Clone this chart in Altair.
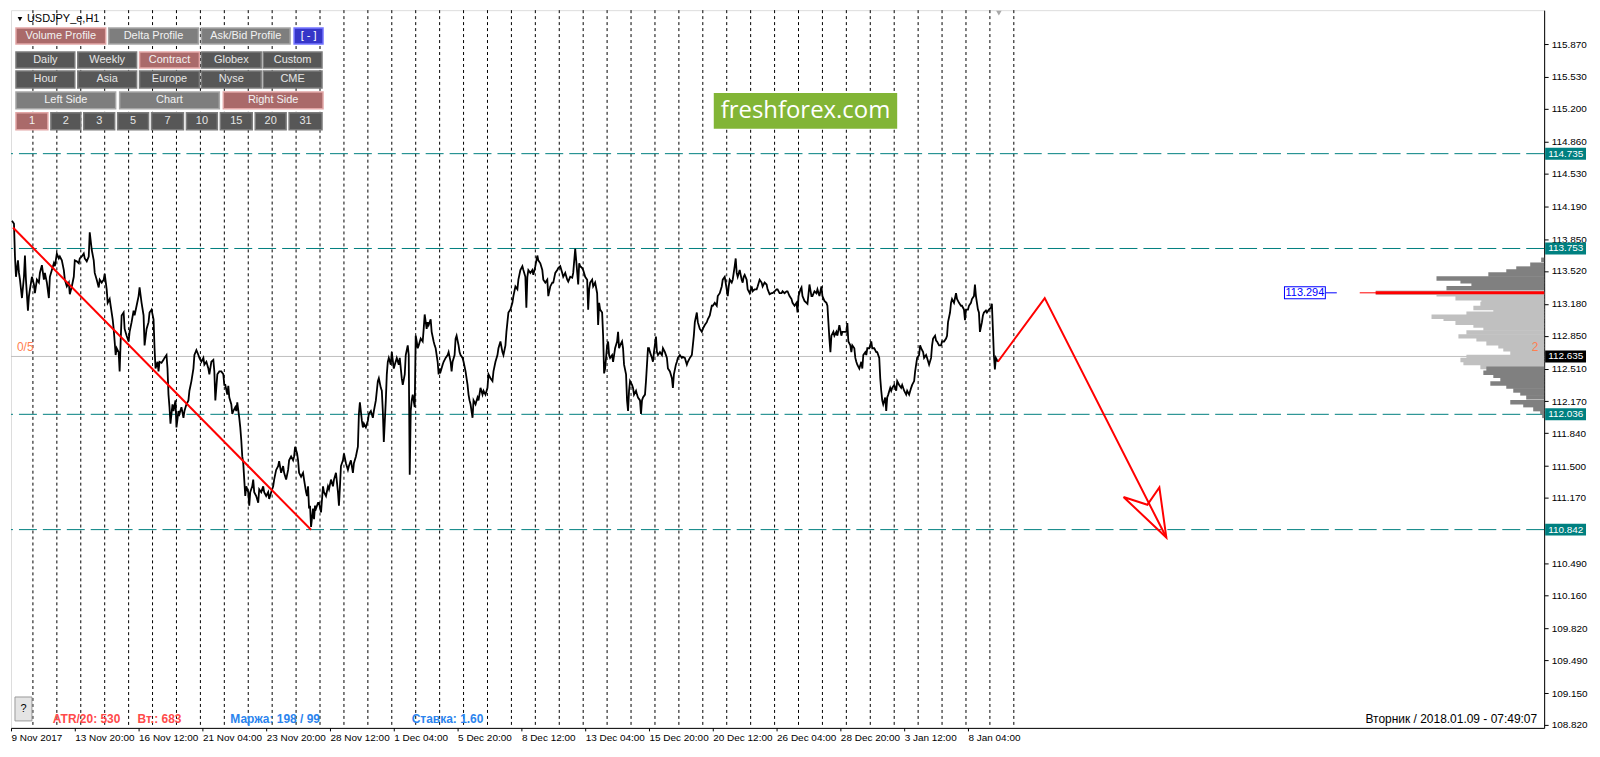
import json
import altair as alt
import pandas as pd

W, H = 1538, 720
Y_MIN, Y_MAX = 108.789, 116.221

# ---------------- data ----------------
# H1 close line, (bar index, price)
SEG_1 = [(1,114.04),(3,114.01),(4,113.67),(5,113.46),(7,113.63),(8,113.50),(9,113.43),(11,113.24),(13,113.46),(14,113.68),(15,113.43),(17,113.11),(18,113.26),(19,113.33),(21,113.46),(23,113.38),(24,113.29),(26,113.43),(28,113.40),(29,113.50),(31,113.58),(33,113.43),(34,113.50),(36,113.40),(38,113.24),(39,113.46),(41,113.53),(43,113.60),(44,113.57),(46,113.70),(48,113.65),(49,113.67),(51,113.63),(53,113.53),(54,113.43),(56,113.36),(58,113.40),(59,113.28),(61,113.36),(63,113.46),(64,113.63),(66,113.62),(68,113.60),(69,113.65),(71,113.67),(73,113.70),(74,113.65),(76,113.62),(78,113.67),(79,113.92),(81,113.74),(83,113.63),(84,113.50),(86,113.43),(88,113.35),(89,113.43),(91,113.40),(93,113.43),(94,113.49),(96,113.33),(97,113.19),(99,113.23),(100,113.16),(102,113.02),(103,112.92),(104,112.79),(105,112.65),(106,112.72),(108,112.68),(109,112.48),(110,112.79),(111,113.06),(113,113.09),(114,112.92),(116,112.85),(118,112.79),(119,112.89),(121,112.99),(123,113.11),(124,113.06),(126,113.16),(128,113.26),(129,113.35),(131,113.19),(133,113.06),(134,112.75),(136,112.92),(138,112.99),(139,113.09),(141,113.12),(143,113.02),(144,112.72),(145,112.51),(147,112.58),(148,112.48),(149,112.58),(151,112.57),(153,112.60),(154,112.62),(156,112.65),(157,112.51),(158,112.24),(159,112.11),(160,111.94),(162,112.14),(163,112.07),(165,112.18),(166,111.90),(168,112.07),(169,112.04),(171,112.11),(173,112.00),(174,112.07),(176,112.14),(178,112.18),(179,112.28),(181,112.38),(183,112.51),(184,112.65),(186,112.70),(188,112.65),(189,112.62),(191,112.58),(193,112.62),(194,112.55)]
SEG_2 = [(196,112.58),(198,112.51),(199,112.45),(201,112.58),(203,112.60),(204,112.48),(205,112.18),(207,112.45),(209,112.48),(211,112.48),(213,112.45),(214,112.34),(215,112.34),(217,112.24),(218,112.33),(219,112.21),(221,112.14),(222,112.04),(223,112.07),(225,112.11),(226,112.07),(227,112.16),(229,112.00),(230,111.90),(231,111.77),(232,111.60),(233,111.53),(234,111.36),(235,111.19),(236,111.29),(238,111.23),(239,111.09),(240,111.23),(242,111.29),(243,111.36),(244,111.23),(246,111.19),(248,111.12),(249,111.26),(251,111.23),(253,111.29),(254,111.23),(256,111.19),(258,111.23),(259,111.16),(261,111.23),(263,111.29),(264,111.36),(266,111.46),(268,111.50),(269,111.55),(271,111.43),(273,111.50),(274,111.43),(276,111.36),(278,111.46),(279,111.56),(281,111.60),(283,111.56),(284,111.60),(285,111.70),(287,111.63),(288,111.56),(289,111.43),(291,111.39),(293,111.43),(294,111.36),(296,111.23),(297,111.19),(298,111.29),(299,111.06),(300,111.09),(301,110.87),(303,111.06),(304,110.95),(305,111.09),(306,111.06),(308,111.12),(309,111.12),(311,111.02),(313,111.29),(314,111.23),(316,111.19),(318,111.29),(319,111.26),(321,111.36),(323,111.29),(324,111.36),(326,111.43),(328,111.23),(329,111.09),(330,111.29),(331,111.50),(333,111.56),(334,111.63),(336,111.53),(338,111.46),(339,111.50),(341,111.56),(343,111.43),(344,111.53),(346,111.60),(348,111.70),(349,112.04),(350,112.16),(352,111.97),(353,111.90),(354,111.94),(356,111.90),(358,111.97),(359,112.04),(361,112.07),(363,112.00),(364,112.07),(366,112.18),(368,112.38),(369,112.41),(371,112.31),(372,112.28),(373,112.07),(374,111.75),(376,112.18),(377,112.45),(378,112.58),(379,112.62),(381,112.55),(382,112.68),(384,112.51),(385,112.55),(387,112.62),(389,112.55),(390,112.62),(392,112.41),(393,112.34),(395,112.45)]
SEG_3 = [(396,112.65),(398,112.75),(399,112.65),(400,111.41),(401,112.07),(402,112.18),(403,112.24),(405,112.11),(406,112.85),(407,112.79),(408,112.72),(409,112.75),(411,112.82),(413,112.79),(414,112.92),(415,113.07),(417,112.92),(418,112.99),(419,112.96),(421,113.02),(422,112.89),(424,112.79),(425,112.75),(426,112.72),(428,112.58),(429,112.45),(430,112.51),(431,112.48),(433,112.55),(434,112.58),(436,112.62),(438,112.65),(439,112.68),(441,112.58),(442,112.48),(443,112.58),(445,112.65),(446,112.82),(447,112.85),(449,112.75),(450,112.68),(451,112.65),(453,112.62),(454,112.58),(456,112.48),(458,112.34),(459,112.24),(460,112.18),(461,112.14),(463,112.00),(464,112.18),(466,112.14),(468,112.21),(469,112.18),(471,112.31),(473,112.24),(474,112.28),(476,112.24),(478,112.31),(479,112.45),(481,112.41),(483,112.38),(484,112.48),(486,112.58),(488,112.65),(489,112.72),(491,112.79),(493,112.68),(494,112.65),(496,112.75),(497,112.89),(498,112.99),(499,113.09),(501,113.12),(503,113.19),(504,113.26),(506,113.36),(508,113.33),(509,113.43),(511,113.53),(513,113.57),(514,113.53),(516,113.46),(517,113.14),(518,113.46),(519,113.53),(521,113.50),(523,113.53),(524,113.48),(526,113.57),(528,113.68),(529,113.63),(531,113.60),(533,113.53),(534,113.43),(536,113.40),(538,113.43),(539,113.26),(541,113.36),(543,113.40),(544,113.40),(546,113.50),(548,113.53),(549,113.55),(551,113.57),(553,113.50),(554,113.46),(556,113.50),(558,113.43),(559,113.41),(561,113.46),(563,113.45),(564,113.50),(566,113.75),(567,113.63),(569,113.38),(570,113.60),(571,113.57),(573,113.55),(574,113.53),(576,113.46),(578,113.43),(579,113.12),(580,113.33),(581,113.40),(583,113.43),(584,113.36),(586,113.40),(588,113.29),(589,112.96),(590,113.19),(591,113.12),(593,113.09),(594,112.85),(595,112.46)]
SEG_4 = [(596,112.51),(598,112.75),(599,112.79),(600,112.65),(601,112.62),(603,112.65),(604,112.58),(606,112.72),(608,112.79),(609,112.89),(610,112.72),(611,112.75),(613,112.79),(614,112.72),(615,112.55),(617,112.45),(618,112.18),(619,112.07),(620,112.28),(621,112.38),(623,112.34),(624,112.31),(625,112.24),(627,112.28),(628,112.24),(629,112.21),(631,112.18),(632,112.04),(633,112.18),(634,112.21),(636,112.24),(637,112.38),(639,112.72),(640,112.72),(641,112.68),(643,112.62),(644,112.58),(645,112.68),(647,112.84),(648,112.68),(649,112.65),(651,112.68),(653,112.65),(654,112.72),(656,112.68),(658,112.62),(659,112.51),(661,112.48),(663,112.41),(664,112.31),(665,112.45),(667,112.55),(668,112.58),(669,112.62),(671,112.65),(673,112.62),(674,112.63),(676,112.62),(678,112.55),(679,112.58),(681,112.62),(683,112.65),(684,112.75),(685,112.85),(686,112.99),(688,113.09),(689,112.99),(691,112.92),(693,112.89),(694,112.92),(696,112.96),(698,112.99),(699,113.02),(701,113.06),(703,113.16),(704,113.16),(706,113.19),(708,113.16),(709,113.26),(711,113.29),(713,113.36),(714,113.43),(716,113.46),(718,113.33),(719,113.26),(720,113.36),(721,113.43),(723,113.40),(724,113.43),(726,113.57),(727,113.65),(728,113.50),(729,113.46),(731,113.53),(733,113.43),(734,113.40),(735,113.46),(736,113.48),(738,113.43),(739,113.33),(741,113.29),(743,113.36),(744,113.31),(746,113.33),(748,113.33),(749,113.36),(751,113.43),(753,113.40),(754,113.36),(756,113.40),(758,113.38),(759,113.33),(761,113.28),(763,113.29),(764,113.29),(766,113.31),(768,113.33),(769,113.33),(771,113.29),(773,113.29),(774,113.31),(776,113.29),(778,113.31),(779,113.31),(781,113.26),(783,113.23),(784,113.19),(786,113.16),(788,113.19),(789,113.09),(790,113.26),(792,113.33),(793,113.35),(794,113.26)]
SEG_5 = [(796,113.21),(798,113.19),(799,113.18),(801,113.38),(803,113.26),(804,113.26),(806,113.31),(808,113.29),(809,113.33),(811,113.26),(813,113.36),(814,113.26),(816,113.21),(818,113.19),(819,113.16),(820,112.99),(821,112.82),(822,112.68),(823,112.85),(825,112.89),(826,112.85),(828,112.89),(829,112.85),(831,112.96),(833,112.85),(834,112.89),(836,112.89),(838,112.89),(839,112.98),(840,112.79),(842,112.75),(843,112.68),(844,112.75),(846,112.72),(847,112.62),(848,112.58),(849,112.55),(851,112.51),(853,112.58),(854,112.51),(855,112.65),(857,112.68),(858,112.65),(859,112.72),(861,112.72),(863,112.79),(864,112.72),(866,112.72),(868,112.68),(869,112.68),(871,112.62),(872,112.41),(873,112.28),(874,112.18),(875,112.14),(877,112.21),(878,112.07),(879,112.21),(880,112.24),(882,112.31),(883,112.28),(884,112.31),(886,112.34),(888,112.28),(889,112.38),(891,112.34),(893,112.31),(894,112.34),(896,112.28),(898,112.24),(899,112.28),(901,112.24),(903,112.31),(904,112.34),(906,112.38),(907,112.48),(908,112.55),(909,112.62),(911,112.65),(912,112.75),(913,112.72),(915,112.68),(916,112.62),(918,112.65),(919,112.62),(921,112.55),(923,112.62),(924,112.75),(925,112.82),(927,112.85),(928,112.80),(929,112.79),(931,112.75),(933,112.75),(934,112.79),(936,112.79),(938,112.82),(939,112.85),(940,112.99),(942,113.09),(943,113.19),(944,113.23),(946,113.19),(948,113.29),(949,113.23),(951,113.19),(953,113.16),(954,113.16),(956,113.12),(957,113.01),(958,113.12),(960,113.12),(961,113.16),(963,113.19),(964,113.23),(966,113.26),(967,113.38),(968,113.26),(970,113.12),(971,113.09),(972,112.89),(974,112.99),(975,113.06),(976,113.09),(978,113.11),(979,113.09),(981,113.12),(983,113.14),(984,113.18),(985,112.92),(986,112.65),(987,112.50),(988,112.62),(989,112.60),(990,112.58)]

# drawn objects (bar, price)
TREND = [(2, 113.97), (301, 110.84)]
FORECAST = [(990, 112.58), (1037, 113.24), (1159, 110.76)]
ARROW_HEAD = [(1116, 111.18), (1159, 110.76), (1152, 111.28), (1140, 111.10), (1116, 111.18)]

LEVELS = [114.735, 113.753, 112.036, 110.842]
BID = 112.635
POC = 113.294
POC_LABEL_BARS = (1277, 1319)

# 110.830 lies under the 110.842 tag in the reference, so it is not drawn
AXIS_TICKS = [115.87, 115.53, 115.20, 114.86, 114.53, 114.19, 113.85, 113.52, 113.18, 112.85,
              112.51, 112.17, 111.84, 111.50, 111.17, 110.49, 110.16, 109.82, 109.49,
              109.15, 108.82]
XLABEL_BARS = [0, 64, 128, 192, 256, 320, 384, 448, 512, 576, 640, 704, 768, 832, 896, 960]
XLABEL_TEXT = ["9 Nov 2017", "13 Nov 20:00", "16 Nov 12:00", "21 Nov 04:00", "23 Nov 20:00",
               "28 Nov 12:00", "1 Dec 04:00", "5 Dec 20:00", "8 Dec 12:00", "13 Dec 04:00",
               "15 Dec 20:00", "20 Dec 12:00", "26 Dec 04:00", "28 Dec 20:00", "3 Jan 12:00",
               "8 Jan 04:00"]
SEP_BARS = [22, 46, 70, 94, 118, 142, 166, 190, 214, 238, 262, 286, 310, 334, 358, 382, 406, 430,
            454, 478, 502, 526, 550, 574, 598, 622, 646, 670, 694, 718, 742, 766, 790, 814, 838,
            862, 886, 910, 934, 958, 982, 1006]

# volume profile (price level, volume)
PROFILE_PRICE = [113.636, 113.585, 113.545, 113.514, 113.484, 113.443, 113.413, 113.382, 113.341,
                 113.294, 113.280, 113.239, 113.209, 113.178, 113.138, 113.107, 113.077, 113.046,
                 113.026, 112.985, 112.955, 112.924, 112.883, 112.843, 112.812, 112.771, 112.741,
                 112.710, 112.670, 112.629, 112.598, 112.568, 112.527, 112.507, 112.466, 112.436,
                 112.395, 112.354, 112.324, 112.283, 112.253, 112.212, 112.161, 112.131, 112.090,
                 112.059, 112.020]
PROFILE_VOL = [3, 14, 28, 38, 56, 108, 84, 73, 98, 169, 108, 89, 63, 64, 71, 51, 78, 113, 101, 89,
               71, 61, 78, 86, 68, 58, 46, 41, 34, 78, 84, 81, 64, 58, 61, 51, 44, 54, 38, 31, 24,
               18, 34, 21, 11, 4, 2]
VA_LOW, VA_HIGH = 112.51, 113.33
POC_VOL_THICK, POC_VOL_THIN = 169, 185

# ---------------- scales / axes ----------------
FONT = "Liberation Sans"
xs = alt.Scale(domain=[0, W], nice=False, zero=False)
ys = alt.Scale(domain=[Y_MIN, Y_MAX], nice=False, zero=False)
label_expr = "%s[indexof(%s, datum.value)]" % (json.dumps(XLABEL_TEXT), json.dumps(XLABEL_BARS))
AX_X = alt.Axis(title=None, values=XLABEL_BARS, labelExpr=label_expr, labelAlign="left",
                labelFontSize=10, labelFont=FONT, tickSize=3, labelPadding=2, grid=False,
                labelOverlap=False, labelFlush=False, labelColor="black", domainColor="black",
                tickColor="black")
AX_Y = alt.Axis(title=None, orient="right", values=AXIS_TICKS, format=".3f", labelFontSize=10,
                labelFont=FONT, tickSize=4, labelPadding=3, grid=False, labelOverlap=False,
                labelColor="black", domainColor="black", tickColor="black")


def X(f="bar"):
    return alt.X(f"{f}:Q", scale=xs, axis=AX_X)


def Y(f="price"):
    return alt.Y(f"{f}:Q", scale=ys, axis=AX_Y)


def pts(rows):
    return pd.DataFrame([{"i": k, "bar": b, "price": p} for k, (b, p) in enumerate(rows)])


one = pd.DataFrame({"k": [0]})

line_df = pd.DataFrame(SEG_1 + SEG_2 + SEG_3 + SEG_4 + SEG_5, columns=["bar", "price"])

layers = []
layers.append(alt.Chart(pd.DataFrame({"bar": SEP_BARS})).mark_rule(
    color="black", strokeDash=[3, 3], strokeWidth=1).encode(x=X()))
layers.append(alt.Chart(pd.DataFrame({"price": LEVELS})).mark_rule(
    color="#008080", strokeDash=[18, 6], strokeWidth=1).encode(y=Y()))
layers.append(alt.Chart(pd.DataFrame({"price": [BID]})).mark_rule(
    color="#C0C0C0", strokeWidth=1).encode(y=Y()))
layers.append(alt.Chart(line_df).mark_line(color="black", strokeWidth=1.8).encode(x=X(), y=Y()))
for rows in (TREND, FORECAST, ARROW_HEAD):
    layers.append(alt.Chart(pts(rows)).mark_line(color="#FF0000", strokeWidth=2).encode(
        x=X(), y=Y(), order="i:Q"))

# POC price label box
pl = pd.DataFrame({"bar": [POC_LABEL_BARS[0]], "bar2": [POC_LABEL_BARS[1]], "price": [POC]})
layers.append(alt.Chart(pl).mark_rule(color="#0000FF", strokeWidth=13).encode(
    x=X(), x2="bar2:Q", y=Y()))
pl2 = pd.DataFrame({"bar": [POC_LABEL_BARS[0] + 1], "bar2": [POC_LABEL_BARS[1] - 1], "price": [POC]})
layers.append(alt.Chart(pl2).mark_rule(color="white", strokeWidth=11).encode(
    x=X(), x2="bar2:Q", y=Y()))
pl3 = pd.DataFrame({"bar": [POC_LABEL_BARS[1]], "bar2": [POC_LABEL_BARS[1] + 11], "price": [POC]})
layers.append(alt.Chart(pl3).mark_rule(color="#0000FF", strokeWidth=1).encode(
    x=X(), x2="bar2:Q", y=Y()))
pl4 = pd.DataFrame({"bar": [sum(POC_LABEL_BARS) / 2], "price": [POC]})
layers.append(alt.Chart(pl4).mark_text(color="#0000FF", fontSize=11, font=FONT).encode(
    x=X(), y=Y(), text=alt.Text("price:Q", format=".3f")))

# ---------------- panel UI (pixel layout) ----------------
STYLE = {
    "red": ("#AA6A6A", "#E2A6A6", "#F2F2F2"),
    "gray": ("#7E7E7E", "#A6A6A6", "#F2F2F2"),
    "dark": ("#575757", "#7C7C7C", "#E6E6E6"),
    "blue": ("#3636C8", "#7474FF", "#FFFFFF"),
}
BUTTONS = [
    ("Volume Profile", 9, 99, 22, 38, "red"), ("Delta Profile", 102, 192, 22, 38, "gray"),
    ("Ask/Bid Profile", 195, 284, 22, 38, "gray"), ("[ - ]", 288, 317, 22, 38, "blue"),
    ("Daily", 9, 68, 46, 62, "dark"), ("Weekly", 71, 130, 46, 62, "dark"),
    ("Contract", 133, 193, 46, 62, "red"), ("Globex", 195, 255, 46, 62, "dark"),
    ("Custom", 257, 316, 46, 62, "dark"),
    ("Hour", 9, 68, 65, 82, "dark"), ("Asia", 71, 130, 65, 82, "dark"),
    ("Europe", 133, 193, 65, 82, "dark"), ("Nyse", 195, 255, 65, 82, "dark"),
    ("CME", 257, 316, 65, 82, "dark"),
    ("Left Side", 9, 109, 86, 103, "gray"), ("Chart", 113, 213, 86, 103, "gray"),
    ("Right Side", 217, 317, 86, 103, "red"),
    ("1", 9, 41, 107, 124, "red"), ("2", 44, 74, 107, 124, "dark"), ("3", 77, 108, 107, 124, "dark"),
    ("5", 111, 142, 107, 124, "dark"), ("7", 145, 177, 107, 124, "dark"),
    ("10", 180, 211, 107, 124, "dark"), ("15", 214, 246, 107, 124, "dark"),
    ("20", 249, 280, 107, 124, "dark"), ("31", 283, 316, 107, 124, "dark"),
]
for label, x0, x1, y0, y1, st in BUTTONS:
    fill, stroke, tc = STYLE[st]
    layers.append(alt.Chart(one).mark_rect(fill=fill, stroke=stroke, strokeWidth=1.5).encode(
        x=alt.value(x0 - 4), x2=alt.value(x1 - 4), y=alt.value(y0 - 4), y2=alt.value(y1 - 4)))
    layers.append(alt.Chart(one).mark_text(color=tc, fontSize=11, font=FONT, baseline="middle").encode(
        x=alt.value((x0 + x1) / 2 - 4), y=alt.value((y0 + y1) / 2 - 4), text=alt.value(label)))

layers.append(alt.Chart(one).mark_point(shape="triangle-down", filled=True, color="black", size=22,
                                         opacity=1).encode(x=alt.value(9), y=alt.value(9)))
layers.append(alt.Chart(one).mark_text(align="left", baseline="middle", fontSize=11, font=FONT,
                                        color="black").encode(
    x=alt.value(16), y=alt.value(9), text=alt.value("USDJPY_e,H1")))
layers.append(alt.Chart(one).mark_point(shape="triangle-down", filled=True, color="#A8A8A8", size=30,
                                         opacity=1).encode(x=alt.value(991), y=alt.value(3)))

# logo
layers.append(alt.Chart(one).mark_rect(fill="#82B536").encode(
    x=alt.value(705), x2=alt.value(889), y=alt.value(83), y2=alt.value(119)))
layers.append(alt.Chart(one).mark_text(color="white", fontSize=24, font="Open Sans",
                                        baseline="middle").encode(
    x=alt.value(797), y=alt.value(101), text=alt.value("freshforex.com")))

# bottom info line
layers.append(alt.Chart(one).mark_rect(fill="#E4E4E4", stroke="#9A9A9A", strokeWidth=1).encode(
    x=alt.value(4), x2=alt.value(21), y=alt.value(H - 31), y2=alt.value(H - 7)))
layers.append(alt.Chart(one).mark_text(fontSize=11, font=FONT, color="black", baseline="middle").encode(
    x=alt.value(12.5), y=alt.value(H - 19), text=alt.value("?")))
INFO = [("ATR/20: 530", 42, "#FF4A4A"), ("Вт.: 683", 127, "#FF4A4A"),
        ("Маржа: 198 / 99", 220, "#2B84EE"), ("Ставка: 1.60", 402, "#2B84EE")]
for txt, xx, col in INFO:
    layers.append(alt.Chart(one).mark_text(align="left", baseline="middle", fontSize=12,
                                            fontWeight="bold", font=FONT, color=col).encode(
        x=alt.value(xx), y=alt.value(H - 9), text=alt.value(txt)))
layers.append(alt.Chart(one).mark_text(align="right", baseline="middle", fontSize=12, font=FONT,
                                        color="black").encode(
    x=alt.value(W - 7), y=alt.value(H - 9), text=alt.value("Вторник / 2018.01.09 - 07:49:07")))
layers.append(alt.Chart(one).mark_text(align="left", baseline="middle", fontSize=12, font=FONT,
                                        color="#FF7F50").encode(
    x=alt.value(6), y=alt.value(338), text=alt.value("0/5")))

main = alt.layer(*layers)

# ---------------- volume profile (anchored at right edge) ----------------
px = alt.Scale(domain=[0, W], reverse=True, nice=False, zero=False)
prof_df = pd.DataFrame({"price": PROFILE_PRICE, "vol": PROFILE_VOL})
prof = alt.Chart(prof_df).mark_rule(strokeWidth=4.5).encode(
    x=alt.X("vol:Q", scale=px, axis=None), x2=alt.datum(0), y=Y(),
    color=alt.condition(f"datum.price >= {VA_LOW} && datum.price <= {VA_HIGH}",
                        alt.value("#C0C0C0"), alt.value("#808080")))
poc_thin = alt.Chart(pd.DataFrame({"price": [POC], "vol": [POC_VOL_THIN]})).mark_rule(
    color="#FF0000", strokeWidth=1).encode(x=alt.X("vol:Q", scale=px, axis=None), x2=alt.datum(0), y=Y())
poc_thick = alt.Chart(pd.DataFrame({"price": [POC], "vol": [POC_VOL_THICK]})).mark_rule(
    color="#FF0000", strokeWidth=3).encode(x=alt.X("vol:Q", scale=px, axis=None), x2=alt.datum(0), y=Y())
profile = alt.layer(prof, poc_thin, poc_thick)

# ---------------- price tags on the axis ----------------
top_layers = []
tags = pd.DataFrame({"price": LEVELS})
top_layers.append(alt.Chart(tags).mark_rule(color="#008080", strokeWidth=12).encode(
    x=alt.value(W + 1), x2=alt.value(W + 42), y=Y()))
top_layers.append(alt.Chart(tags).mark_text(align="left", baseline="middle", color="white",
                                            fontSize=10, font=FONT).encode(
    x=alt.value(W + 4), y=Y(), text=alt.Text("price:Q", format=".3f")))
bid = pd.DataFrame({"price": [BID]})
top_layers.append(alt.Chart(bid).mark_rule(color="black", strokeWidth=12).encode(
    x=alt.value(W + 1), x2=alt.value(W + 42), y=Y()))
top_layers.append(alt.Chart(bid).mark_text(align="left", baseline="middle", color="white",
                                           fontSize=10, font=FONT).encode(
    x=alt.value(W + 4), y=Y(), text=alt.Text("price:Q", format=".3f")))
top_layers.append(alt.Chart(one).mark_text(baseline="middle", fontSize=12, font=FONT,
                                           color="#FF7F50").encode(
    x=alt.value(W - 9), y=alt.value(338), text=alt.value("2")))
top = alt.layer(*top_layers)

chart = alt.layer(main, profile, top).resolve_scale(x="independent").properties(
    width=W, height=H, padding={"left": 0, "top": 0, "right": 0, "bottom": 0},
    background="white",
).configure_view(stroke="black", strokeWidth=1).configure(font=FONT)

chart.save("out.html", embed_options={"renderer": "svg", "actions": False})
